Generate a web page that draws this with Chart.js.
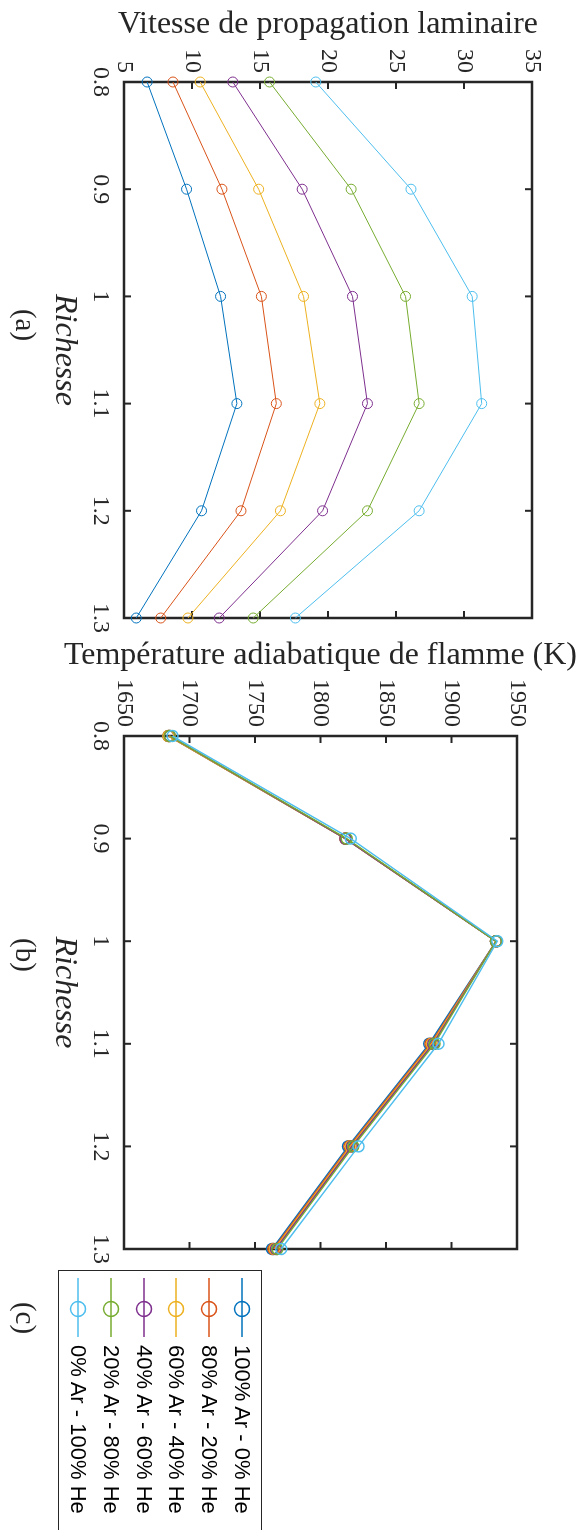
<!DOCTYPE html>
<html>
<head>
<meta charset="utf-8">
<script src="https://cdn.jsdelivr.net/npm/chart.js@4.4.0/dist/chart.umd.min.js"></script>
<style>
html, body { margin: 0; padding: 0; background: #fff; overflow: hidden; width: 576px; height: 1530px; }
/* figure is laid out landscape, then turned a quarter clockwise */
#fig { position: absolute; left: 0; top: 0; width: 1530px; height: 576px; transform-origin: 0 0; transform: translate(576px, 0) rotate(90deg); }
canvas { position: absolute; top: 0; }
#chartA { left: 0; }
#chartB { left: 630px; }
.sub { position: absolute; font-family: 'Liberation Serif'; font-size: 29px; color: #262626; transform: translate(-50%, -50%); white-space: nowrap; }
#legend { position: absolute; left: 1270px; top: 314px; width: 300px; height: 204px; border: 1px solid #262626; background: #fff; box-sizing: border-box; padding-top: 3px; font-family: 'Liberation Sans'; font-size: 22px; color: #000; }
.row { height: 32.7px; display: flex; align-items: center; white-space: nowrap; }
.row svg { margin-left: 7px; margin-right: 8px; flex: none; }
</style>
</head>
<body>
<div id="fig">
  <canvas id="chartA" width="660" height="576"></canvas>
  <canvas id="chartB" width="680" height="576"></canvas>
  <div class="sub" style="left:325px; top:550px;">(a)</div>
  <div class="sub" style="left:955px; top:550px;">(b)</div>
  <div class="sub" style="left:1318px; top:550px;">(c)</div>
  <div id="legend"></div>
</div>
<script>
// richesse (x axis)
var richesse = [0.8, 0.9, 1.0, 1.1, 1.2, 1.3];
var xTickLabels = ['0.8', '0.9', '1', '1.1', '1.2', '1.3'];
var yTicksA = [5, 10, 15, 20, 25, 30, 35];
var yTicksB = [1650, 1700, 1750, 1800, 1850, 1900, 1950];

var seriesNames = ['100% Ar - 0% He', '80% Ar - 20% He', '60% Ar - 40% He',
                   '40% Ar - 60% He', '20% Ar - 80% He', '0% Ar - 100% He'];
var colors = ['#0072BD', '#D95319', '#EDB120', '#7E2F8E', '#77AC30', '#4DBEEE'];

// (a) vitesse de propagation laminaire
var vitesse100Ar = [6.7, 9.6, 12.1, 13.3, 10.7, 5.9];
var vitesse80Ar  = [8.6, 12.2, 15.1, 16.2, 13.6, 7.7];
var vitesse60Ar  = [10.6, 14.9, 18.2, 19.4, 16.5, 9.7];
var vitesse40Ar  = [13.0, 18.1, 21.8, 22.9, 19.6, 12.0];
var vitesse20Ar  = [15.7, 21.7, 25.7, 26.7, 22.9, 14.5];
var vitesse0Ar   = [19.1, 26.1, 30.6, 31.3, 26.7, 17.6];

// (b) temperature adiabatique de flamme (K)
var temp100Ar = [1684, 1819, 1934, 1883, 1821, 1763];
var temp80Ar  = [1684, 1819, 1934, 1884, 1822, 1764];
var temp60Ar  = [1684, 1819, 1934, 1885, 1823, 1765];
var temp40Ar  = [1685, 1819, 1934, 1886, 1824, 1766];
var temp20Ar  = [1685, 1820, 1934, 1887, 1825, 1767];
var temp0Ar   = [1687, 1823, 1935, 1890, 1829, 1770];

var vitesse = [vitesse100Ar, vitesse80Ar, vitesse60Ar, vitesse40Ar, vitesse20Ar, vitesse0Ar];
var temp = [temp100Ar, temp80Ar, temp60Ar, temp40Ar, temp20Ar, temp0Ar];

var axisColor = '#262626';
Chart.defaults.color = axisColor;
Chart.defaults.font.family = 'Liberation Serif';

// matlab style box with ticks pointing inside
var boxTicks = {
    id: 'boxTicks',
    beforeDatasetsDraw: function(chart){
        var ctx = chart.ctx, a = chart.chartArea;
        var x = chart.scales.x, y = chart.scales.y;
        var L = 7;
        ctx.save();
        ctx.strokeStyle = axisColor;
        ctx.lineWidth = 2;
        ctx.beginPath();
        x.ticks.forEach(function(t){
            var px = x.getPixelForValue(t.value);
            ctx.moveTo(px, a.bottom); ctx.lineTo(px, a.bottom - L);
            ctx.moveTo(px, a.top); ctx.lineTo(px, a.top + L);
        });
        y.ticks.forEach(function(t){
            var py = y.getPixelForValue(t.value);
            ctx.moveTo(a.left, py); ctx.lineTo(a.left + L, py);
            ctx.moveTo(a.right, py); ctx.lineTo(a.right - L, py);
        });
        ctx.stroke();
        ctx.lineWidth = 2.5;
        ctx.strokeRect(a.left, a.top, a.right - a.left, a.bottom - a.top);
        ctx.restore();
    }
};

function makeSets(list, width, radius){
    var sets = [];
    for (var i = 0; i < list.length; i++){
        var pts = [];
        for (var j = 0; j < richesse.length; j++){
            pts.push({x: richesse[j], y: list[i][j]});
        }
        sets.push({
            label: seriesNames[i],
            data: pts,
            borderColor: colors[i],
            backgroundColor: colors[i],
            borderWidth: width,
            pointRadius: radius,
            pointBorderWidth: width,
            pointBackgroundColor: 'rgba(0,0,0,0)',
            pointBorderColor: colors[i],
            tension: 0,
            clip: false,
            order: -i   // later series on top, like matlab
        });
    }
    return sets;
}

function makeOptions(o){
    return {
        responsive: false,
        animation: false,
        devicePixelRatio: 1,
        layout: { padding: o.padding },
        plugins: { legend: { display: false }, tooltip: { enabled: false } },
        scales: {
            x: {
                type: 'linear',
                min: 0.8,
                max: 1.3,
                grid: { display: false, drawTicks: false },
                border: { display: false },
                afterBuildTicks: function(s){ s.ticks = richesse.map(function(v){ return {value: v}; }); },
                afterFit: function(s){ s.height = o.xHeight; s.paddingLeft = 0; s.paddingRight = 0; },
                ticks: {
                    autoSkip: false,
                    maxRotation: 0,
                    padding: 9,
                    font: { size: 24 },
                    callback: function(v, i){ return xTickLabels[i]; }
                },
                title: {
                    display: true,
                    text: 'Richesse',
                    font: { size: 32, style: 'italic' },
                    padding: { top: 0, bottom: 45 }
                }
            },
            y: {
                min: o.yTicks[0],
                max: o.yTicks[o.yTicks.length - 1],
                grid: { display: false, drawTicks: false },
                border: { display: false },
                afterBuildTicks: function(s){ s.ticks = o.yTicks.map(function(v){ return {value: v}; }); },
                afterFit: function(s){ s.width = o.yWidth; s.paddingTop = 0; s.paddingBottom = 0; },
                ticks: {
                    padding: 9,
                    font: { size: 24 },
                    callback: function(v){ return String(v); }
                },
                title: {
                    display: true,
                    text: o.yTitle,
                    font: { size: 32 },
                    padding: { top: o.titlePad, bottom: 0 }
                }
            }
        }
    };
}

new Chart(document.getElementById('chartA'), {
    type: 'line',
    data: { datasets: makeSets(vitesse, 1, 5) },
    options: makeOptions({
        yTicks: yTicksA,
        yTitle: 'Vitesse de propagation laminaire',
        yWidth: 82,
        xHeight: 124,
        titlePad: 5,
        padding: { left: 0, top: 44, right: 42, bottom: 0 }
    }),
    plugins: [boxTicks]
});

new Chart(document.getElementById('chartB'), {
    type: 'line',
    data: { datasets: makeSets(temp, 1.5, 5.5) },
    options: makeOptions({
        yTicks: yTicksB,
        yTitle: 'Température adiabatique de flamme (K)',
        yWidth: 106,
        xHeight: 124,
        titlePad: 6,
        padding: { left: 0, top: 59, right: 61, bottom: 0 }
    }),
    plugins: [boxTicks]
});

// legend (c)
var legend = document.getElementById('legend');
for (var i = 0; i < seriesNames.length; i++){
    var row = document.createElement('div');
    row.className = 'row';
    row.innerHTML = '<svg width="59" height="20"><line x1="0" y1="10" x2="59" y2="10" stroke="' + colors[i] +
        '" stroke-width="1.5"/><circle cx="31" cy="10" r="7.5" fill="none" stroke="' + colors[i] +
        '" stroke-width="1.5"/></svg><span>' + seriesNames[i] + '</span>';
    legend.appendChild(row);
}
</script>
</body>
</html>
